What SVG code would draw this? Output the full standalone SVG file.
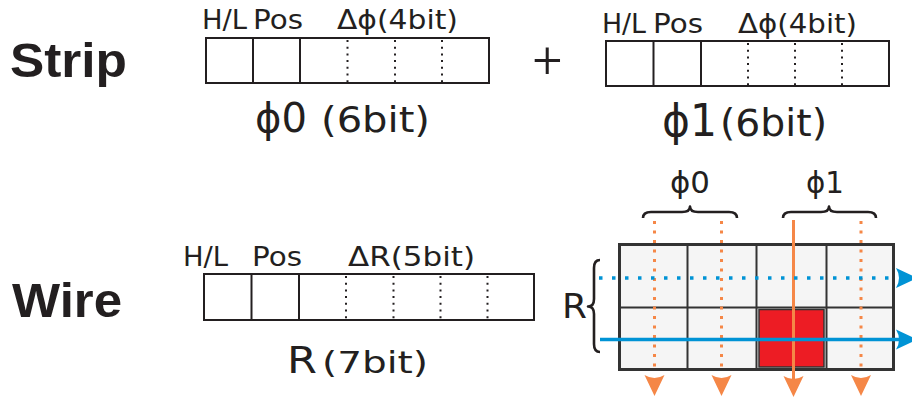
<svg xmlns="http://www.w3.org/2000/svg" width="912" height="401" viewBox="0 0 912 401">
<style>
  text { font-family: "DejaVu Sans", "Liberation Sans", sans-serif; fill: #231f20; }
  .title { font-family: "Liberation Sans", Arial, sans-serif; font-weight: bold; font-size: 48px; }
  .lbl { font-size: 26px; }
  .box { fill: #fff; stroke: #231f20; stroke-width: 2; }
  .div { stroke: #231f20; stroke-width: 2; }
  .dot { stroke: #231f20; stroke-width: 2; stroke-dasharray: 2 4.7; }
  .cell { fill: #f5f5f5; stroke: #333; stroke-width: 2; }
  .brace { fill: none; stroke: #231f20; stroke-width: 2.6; stroke-linejoin: round; }
  .odot { stroke: #f58747; stroke-width: 3; stroke-dasharray: 3 6.5; fill: none; }
  .osol { stroke: #f58747; stroke-width: 3; fill: none; }
  .bdot { stroke: #0093d5; stroke-width: 3.5; stroke-dasharray: 3.5 9.5; fill: none; }
  .bsol { stroke: #0093d5; stroke-width: 3.5; fill: none; }
  .oarr { fill: #f58747; }
  .barr { fill: #0093d5; }
</style>

<g id="strip-title">
  <text class="title" x="10" y="77" textLength="117" lengthAdjust="spacingAndGlyphs">Strip</text>
</g>

<g id="strip-phi0">
  <text class="lbl" x="202" y="29" textLength="45" lengthAdjust="spacingAndGlyphs">H/L</text>
  <text class="lbl" x="253" y="29" textLength="50" lengthAdjust="spacingAndGlyphs">Pos</text>
  <text class="lbl" x="337" y="29" textLength="121" lengthAdjust="spacingAndGlyphs">Δϕ(4bit)</text>
  <rect class="box" x="206" y="38" width="283" height="45"/>
  <line class="div" x1="253" y1="38" x2="253" y2="83"/>
  <line class="div" x1="300" y1="38" x2="300" y2="83"/>
  <line class="dot" x1="347.5" y1="40" x2="347.5" y2="82"/>
  <line class="dot" x1="395" y1="40" x2="395" y2="82"/>
  <line class="dot" x1="442" y1="40" x2="442" y2="82"/>
  <text x="255" y="132" font-size="41" textLength="52" lengthAdjust="spacingAndGlyphs">ϕ0</text>
  <text x="321" y="132" font-size="35" textLength="109" lengthAdjust="spacingAndGlyphs">(6bit)</text>
</g>

<g id="plus">
  <text x="547.5" y="78" font-size="52" text-anchor="middle" style="font-family: Roboto, 'Liberation Sans', sans-serif; font-weight: 300;">+</text>
</g>

<g id="strip-phi1">
  <text class="lbl" x="602" y="33" textLength="44" lengthAdjust="spacingAndGlyphs">H/L</text>
  <text class="lbl" x="653" y="33" textLength="50" lengthAdjust="spacingAndGlyphs">Pos</text>
  <text class="lbl" x="738" y="33" textLength="119" lengthAdjust="spacingAndGlyphs">Δϕ(4bit)</text>
  <rect class="box" x="606" y="41" width="283" height="45"/>
  <line class="div" x1="653.5" y1="41" x2="653.5" y2="86"/>
  <line class="div" x1="701" y1="41" x2="701" y2="86"/>
  <line class="dot" x1="748" y1="43" x2="748" y2="85"/>
  <line class="dot" x1="795" y1="43" x2="795" y2="85"/>
  <line class="dot" x1="842" y1="43" x2="842" y2="85"/>
  <text x="662" y="136" font-size="45" textLength="55" lengthAdjust="spacingAndGlyphs">ϕ1</text>
  <text x="720" y="136" font-size="37" textLength="107" lengthAdjust="spacingAndGlyphs">(6bit)</text>
</g>

<g id="wire-title">
  <text class="title" x="12" y="317" font-size="47" textLength="110" lengthAdjust="spacingAndGlyphs">Wire</text>
</g>

<g id="wire-R">
  <text class="lbl" x="183" y="266" font-size="27" textLength="45" lengthAdjust="spacingAndGlyphs">H/L</text>
  <text class="lbl" x="252" y="266" font-size="27" textLength="50" lengthAdjust="spacingAndGlyphs">Pos</text>
  <text class="lbl" x="348" y="266" font-size="27" textLength="127" lengthAdjust="spacingAndGlyphs">ΔR(5bit)</text>
  <rect class="box" x="204" y="274" width="330" height="46"/>
  <line class="div" x1="251.5" y1="274" x2="251.5" y2="320"/>
  <line class="div" x1="299" y1="274" x2="299" y2="320"/>
  <line class="dot" x1="346" y1="276" x2="346" y2="319"/>
  <line class="dot" x1="393.5" y1="276" x2="393.5" y2="319"/>
  <line class="dot" x1="440.5" y1="276" x2="440.5" y2="319"/>
  <line class="dot" x1="487.5" y1="276" x2="487.5" y2="319"/>
  <text x="287" y="373" font-size="38" textLength="30" lengthAdjust="spacingAndGlyphs">R</text>
  <text x="322" y="373" font-size="31" textLength="106" lengthAdjust="spacingAndGlyphs">(7bit)</text>
</g>

<g id="grid">
  <rect class="cell" x="619.5" y="244.5" width="274" height="125"/>
  <line class="div" x1="687.5" y1="244.5" x2="687.5" y2="369.5" style="stroke:#333"/>
  <line class="div" x1="756.5" y1="244.5" x2="756.5" y2="369.5" style="stroke:#333"/>
  <line class="div" x1="826.5" y1="244.5" x2="826.5" y2="369.5" style="stroke:#333"/>
  <line class="div" x1="619.5" y1="307.5" x2="893.5" y2="307.5" style="stroke:#333"/>
  <rect x="759" y="309.5" width="65" height="57.5" fill="#ed1c24" stroke="#333" stroke-width="1.5"/>
  <rect x="619.5" y="244.5" width="274" height="125" fill="none" stroke="#333" stroke-width="3"/>
</g>

<g id="phi0-label">
  <text x="670" y="193" font-size="31" textLength="40" lengthAdjust="spacingAndGlyphs">ϕ0</text>
  <path class="brace" d="M643,218 Q643,212 651,212 L682,212 Q690,212 690,206.5 Q690,212 698,212 L729,212 Q737,212 737,218"/>
</g>

<g id="phi1-label">
  <text x="806" y="193" font-size="31" textLength="38" lengthAdjust="spacingAndGlyphs">ϕ1</text>
  <path class="brace" d="M783,218 Q783,212 791,212 L821,212 Q829,212 829,206.5 Q829,212 837,212 L868,212 Q876,212 876,218"/>
</g>

<g id="R-label">
  <text x="562" y="318" font-size="34" textLength="25" lengthAdjust="spacingAndGlyphs">R</text>
  <path class="brace" d="M600,260 Q594,260 594,268 L594,299 Q594,306.5 588,306.5 Q594,306.5 594,314 L594,344 Q594,352 600,352"/>
</g>

<g id="connectors">
  <line class="odot" x1="654.5" y1="221" x2="654.5" y2="368"/>
  <line class="odot" x1="721.5" y1="221" x2="721.5" y2="368"/>
  <line class="odot" x1="861" y1="221" x2="861" y2="368"/>
  <line class="osol" x1="793.5" y1="220" x2="793.5" y2="385"/>
  <path class="oarr" d="M654.5,396 L644.5,375 Q654.5,381 664.5,375 Z"/>
  <path class="oarr" d="M721.5,396 L711.5,375 Q721.5,381 731.5,375 Z"/>
  <path class="oarr" d="M793.5,397 L783.5,376 Q793.5,382 803.5,376 Z"/>
  <path class="oarr" d="M861,396 L851,375 Q861,381 871,375 Z"/>
  <line class="bdot" x1="599" y1="278" x2="898" y2="278"/>
  <line class="bsol" x1="600" y1="339.5" x2="900" y2="339.5"/>
  <path class="barr" d="M917,278 L896,268 Q902,278 896,288 Z"/>
  <path class="barr" d="M917,339.5 L896,329.5 Q902,339.5 896,349.5 Z"/>
</g>
</svg>
